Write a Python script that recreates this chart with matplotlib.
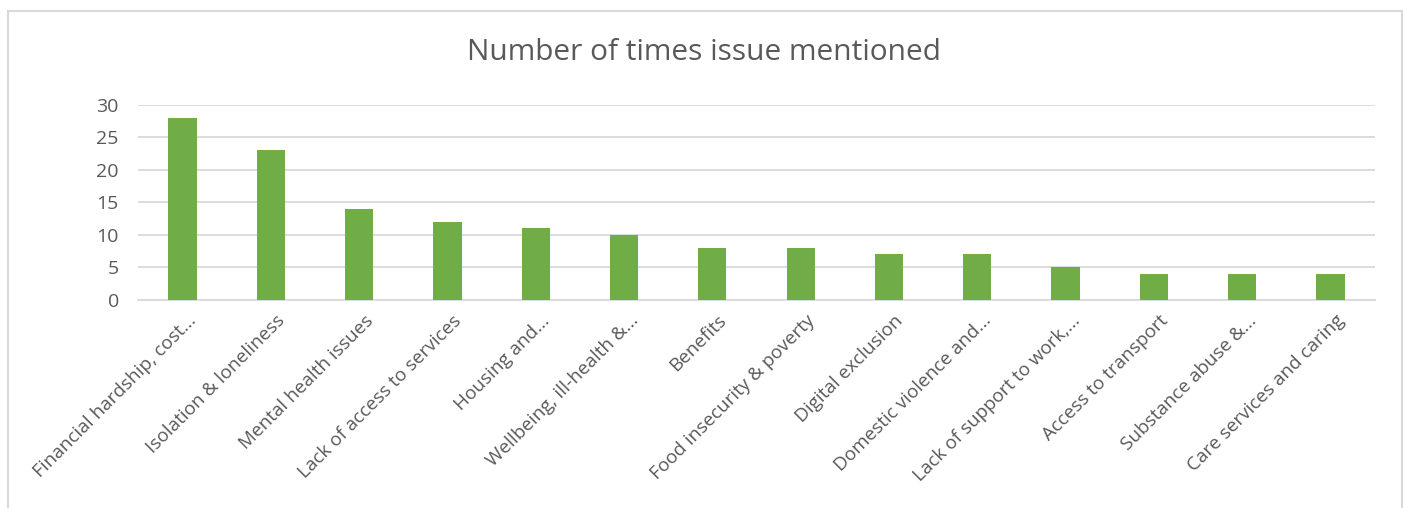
import matplotlib
matplotlib.use("Agg")
import matplotlib.pyplot as plt
from matplotlib.patches import Rectangle
import matplotlib.transforms as mtransforms

categories = ["Financial hardship, cost...", "Isolation & loneliness", "Mental health issues",
              "Lack of access to services", "Housing and...", "Wellbeing, ill-health &...",
              "Benefits", "Food insecurity & poverty", "Digital exclusion",
              "Domestic violence and...", "Lack of support to work,...", "Access to transport",
              "Substance abuse &...", "Care services and caring"]
values = [28, 23, 14, 12, 11, 10, 8, 8, 7, 7, 5, 4, 4, 4]
yticks = [0, 5, 10, 15, 20, 25, 30]
title = "Number of times issue mentioned"

plt.rcParams['font.family'] = ['Open Sans', 'DejaVu Sans']
W, H = 1405, 508
fig = plt.figure(figsize=(W/100, H/100), dpi=100)
fig.patch.set_facecolor('white')

# outer frame
fig.patches.append(Rectangle((8/W, -0.1), (1402-8)/W, (H-11)/H + 0.1, transform=fig.transFigure,
                             fill=False, edgecolor='#d9d9d9', linewidth=1.5))

left, right = 138.3, 1374.7
top, bottom = 104.7, 299.7
ax = fig.add_axes([left/W, 1-bottom/H, (right-left)/W, (bottom-top)/H])
x = list(range(len(categories)))
ax.bar(x, values, width=0.32, color='#70ad47', zorder=3)
ax.set_xlim(-0.5, len(categories)-0.5)
ax.set_ylim(0, 30)
ax.set_yticks(yticks)
ax.set_yticklabels([str(v) for v in yticks], fontsize=14, color='#595959')
ax.yaxis.grid(True, color='#d9d9d9', linewidth=1.3, zorder=0)
ax.set_axisbelow(True)
for s in ['top', 'right', 'left']:
    ax.spines[s].set_visible(False)
ax.spines['bottom'].set_color('#d9d9d9')
ax.spines['bottom'].set_linewidth(1.3)
ax.tick_params(axis='both', length=0)
ax.tick_params(axis='y', pad=14)
ax.set_xticks(x)
ax.set_xticklabels(categories, rotation=45, ha='right', rotation_mode='anchor',
                   fontsize=13.6, color='#595959')
ax.tick_params(axis='x', pad=8.5)
offset = mtransforms.ScaledTranslation(5/100, 0, fig.dpi_scale_trans)
for lab in ax.get_xticklabels():
    lab.set_transform(lab.get_transform() + offset)

fig.text(704/W, 1-52/H, title, ha='center', va='center', fontsize=21.5, color='#595959')

fig.savefig('out.png', dpi=100)
